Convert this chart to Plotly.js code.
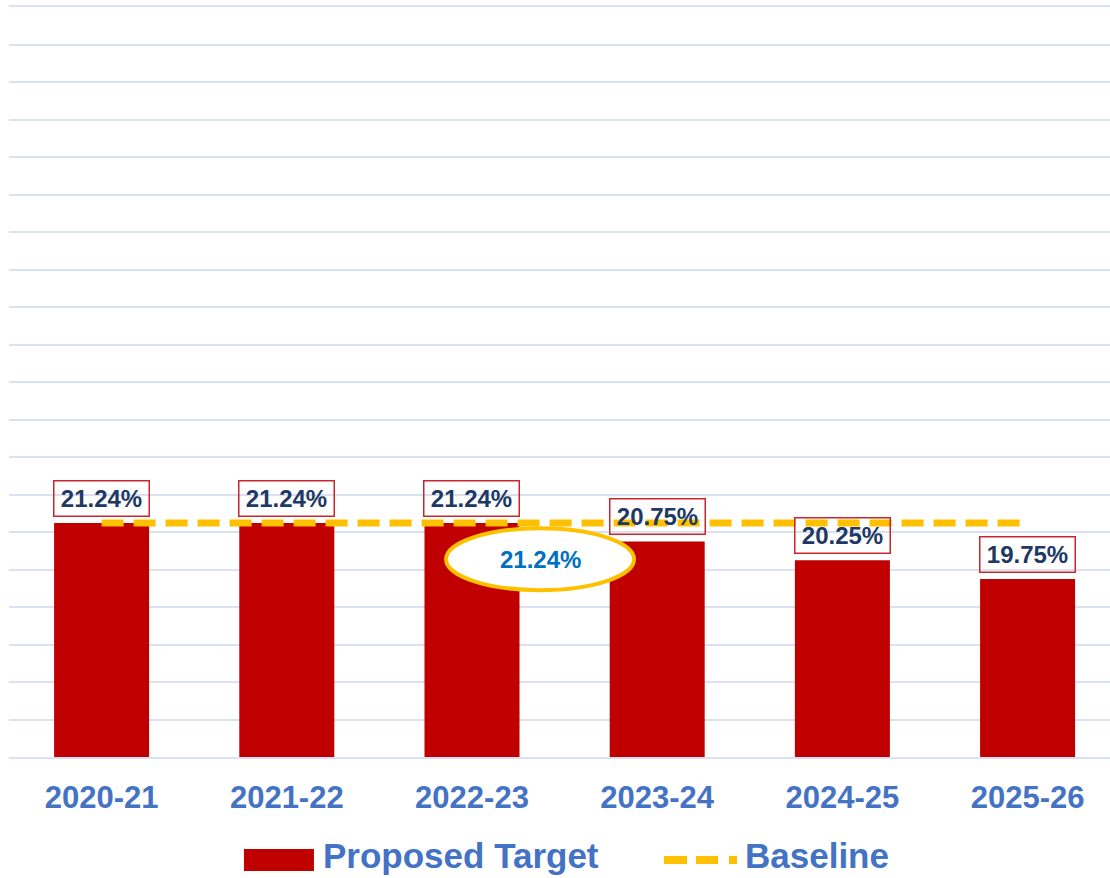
<!DOCTYPE html>
<html>
<head>
<meta charset="utf-8">
<script src="https://cdn.plot.ly/plotly-3.0.1.min.js"></script>
<style>html,body{margin:0;padding:0;background:#fff;}#chart{width:1110px;height:878px;}</style>
</head>
<body>
<div id="chart"></div>
<script>
const categories = ["2020-21", "2021-22", "2022-23", "2023-24", "2024-25", "2025-26"];
const proposedTarget = [21.24, 21.24, 21.24, 20.75, 20.25, 19.75];
const baseline = [21.24, 21.24, 21.24, 21.24, 21.24, 21.24];
const baselineLabel = "21.24%";
const seriesNames = ["Proposed Target", "Baseline"];

const FONT = "Arial, 'Liberation Sans', sans-serif";
const BLUE = "#4472c4";

const traces = [
  {
    type: "bar",
    x: categories,
    y: proposedTarget,
    name: seriesNames[0],
    marker: {color: "#c00000"},
    hoverinfo: "x+y"
  },
  {
    type: "scatter",
    mode: "lines",
    x: categories,
    y: baseline,
    name: seriesNames[1],
    line: {color: "#ffc000", width: 7, dash: "22px,10px"},
    hoverinfo: "x+y"
  }
];

const annotations = proposedTarget.map((v, i) => ({
  x: categories[i],
  y: v,
  xref: "x",
  yref: "y",
  text: v.toFixed(2) + "%",
  showarrow: false,
  yanchor: "bottom",
  yshift: 6,
  font: {family: FONT, size: 24, color: "#203864", weight: "bold"},
  bordercolor: "#c8262c",
  borderwidth: 1.5,
  borderpad: 2,
  width: 90,
  height: 30
}));

// Callout text inside the ellipse
annotations.push({
  x: 2.37, y: 20.28, xref: "x", yref: "y",
  text: baselineLabel, showarrow: false,
  font: {family: FONT, size: 24, color: "#0070c0", weight: "bold"}
});

// Custom legend labels
annotations.push({
  x: 0.2834, y: -0.1307, xref: "paper", yref: "paper",
  xanchor: "left", yanchor: "middle", showarrow: false,
  text: seriesNames[0],
  font: {family: FONT, size: 35, color: BLUE, weight: "bold"}
});
annotations.push({
  x: 0.6667, y: -0.1307, xref: "paper", yref: "paper",
  xanchor: "left", yanchor: "middle", showarrow: false,
  text: seriesNames[1],
  font: {family: FONT, size: 35, color: BLUE, weight: "bold"}
});

const shapes = [
  {
    type: "circle", xref: "x", yref: "y",
    x0: 1.86, x1: 2.875, y0: 19.45, y1: 21.1,
    fillcolor: "#ffffff",
    line: {color: "#ffc000", width: 4},
    layer: "above"
  },
  {
    type: "rect", xref: "paper", yref: "paper",
    x0: 0.2134, x1: 0.277, y0: -0.152, y1: -0.1227,
    fillcolor: "#c00000", line: {width: 0}
  },
  {
    type: "line", xref: "paper", yref: "paper",
    x0: 0.5949, x1: 0.6612, y0: -0.1373, y1: -0.1373,
    line: {color: "#ffc000", width: 8, dash: "23px,9px,22px,11px,8px,100px"}
  }
];

const layout = {
  width: 1110,
  height: 878,
  margin: {l: 9, r: 0, t: 7, b: 121},
  paper_bgcolor: "#ffffff",
  plot_bgcolor: "#ffffff",
  showlegend: false,
  bargap: 0.487,
  font: {family: FONT},
  xaxis: {
    type: "category",
    range: [-0.5, 5.445],
    showgrid: false,
    zeroline: false,
    showline: true,
    mirror: true,
    linecolor: "#d9e1f2",
    linewidth: 2,
    ticks: "",
    tickfont: {family: FONT, size: 31, color: BLUE, weight: "bold"},
    ticklabelstandoff: 12,
    fixedrange: true
  },
  yaxis: {
    range: [15, 35],
    dtick: 1,
    tick0: 15,
    showticklabels: false,
    showgrid: true,
    gridcolor: "#d9e1f2",
    gridwidth: 2,
    zeroline: false,
    showline: false,
    ticks: "",
    fixedrange: true
  },
  annotations: annotations,
  shapes: shapes
};

Plotly.newPlot("chart", traces, layout, {displayModeBar: false, staticPlot: true});
</script>
</body>
</html>
